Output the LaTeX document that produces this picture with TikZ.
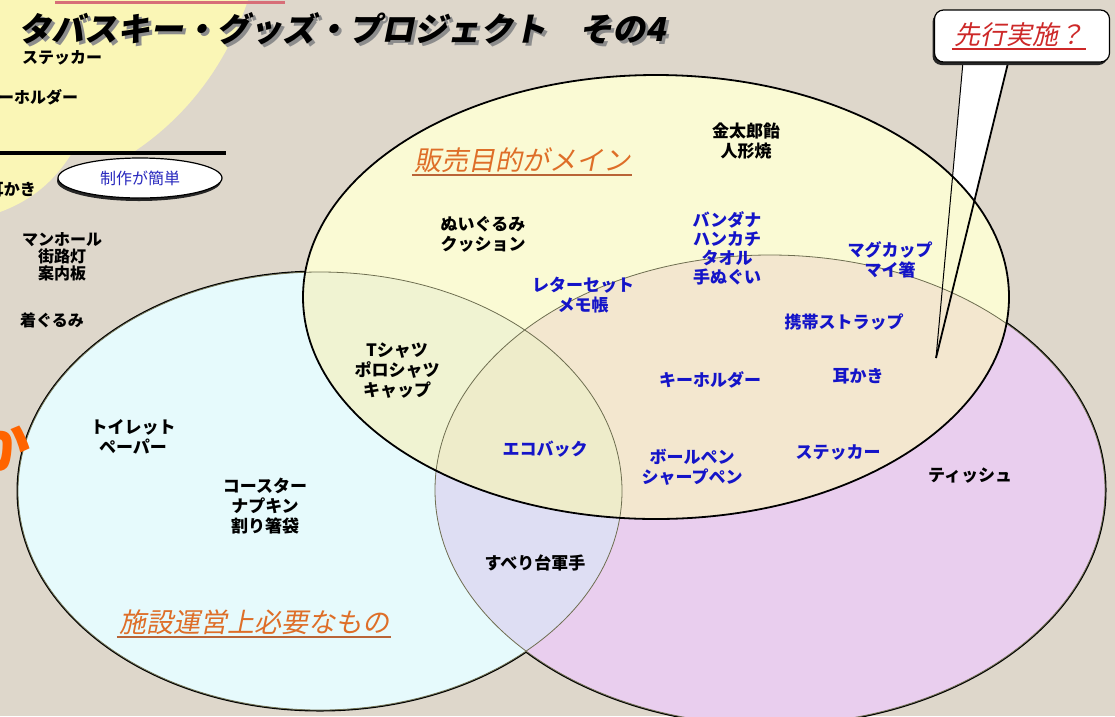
\documentclass[tikz,border=0pt]{standalone}
\usepackage{fontspec}
\usetikzlibrary{calc, shapes.geometric, shadows}
\newfontfamily\jp{Noto Sans CJK JP}
\newfontfamily\jpsl[FakeSlant=0.2]{Noto Sans CJK JP}
\definecolor{paper}{RGB}{222,215,203}
\definecolor{oldyellow}{RGB}{250,246,182}
\definecolor{pinkred}{RGB}{215,110,120}
\definecolor{saleyellow}{RGB}{250,250,212}
\definecolor{siteblue}{RGB}{230,250,252}
\definecolor{trialpink}{RGB}{233,206,238}
\definecolor{siteXtrial}{RGB}{222,222,243}
\definecolor{saleXsite}{RGB}{240,243,210}
\definecolor{saleXtrial}{RGB}{243,231,207}
\definecolor{allthree}{RGB}{238,236,202}
\definecolor{seam}{RGB}{110,110,80}
\definecolor{goodsblue}{RGB}{20,20,200}
\definecolor{themeorange}{RGB}{222,110,40}
\definecolor{themerule}{RGB}{185,100,55}
\definecolor{callred}{RGB}{205,40,40}
\definecolor{easyblue}{RGB}{40,40,190}
\definecolor{kaorange}{RGB}{255,100,0}
\newcommand\saleE{(656,297) ellipse [x radius=353pt, y radius=222pt]}
\newcommand\siteE{(320,491) ellipse [x radius=302pt, y radius=219pt]}
\newcommand\trialE{(770,490) ellipse [x radius=335pt, y radius=235pt]}
\begin{document}
\begin{tikzpicture}[x=1pt,y=-1pt,
    item/.style={font=\jp\bfseries\fontsize{17}{20}\selectfont, align=center, inner sep=0pt},
    goods/.style={item, text=goodsblue},
    old/.style={font=\jp\bfseries\fontsize{16}{17}\selectfont, align=center, inner sep=0pt},
    theme/.style={font=\jpsl\fontsize{27}{30}\selectfont, text=themeorange, inner sep=2pt},
    themeline/.style={draw=themerule, line width=2pt},
    heading/.style={font=\jpsl\bfseries\fontsize{33}{36}\selectfont, inner sep=0pt, anchor=west},
    rim/.style={draw=black, line width=3pt},
    seamline/.style={draw=seam, line width=0.8pt},
    callbox/.style={rectangle, rounded corners=9pt, draw, line width=1.2pt, fill=white,
      minimum width=175pt, minimum height=52pt,
      drop shadow={shadow xshift=-2pt, shadow yshift=-3pt, fill=black!85, opacity=1}},
    easybox/.style={ellipse, draw, line width=1.2pt, fill=white, minimum width=164pt, minimum height=40pt,
      font=\jp\fontsize{16}{18}\selectfont, text=easyblue,
      drop shadow={shadow xshift=-1pt, shadow yshift=-3pt, fill=black!85, opacity=1}},
  ]
\useasboundingbox (0,0) rectangle (1115,716);
\fill[paper] (0,0) rectangle (1115,716);

\fill[oldyellow] (0,0) -- (248,0) .. controls (228,60) and (190,115) .. (132,153) -- (0,153) -- cycle;
\fill[oldyellow] (0,153) -- (72,153) .. controls (58,175) and (38,198) .. (0,212) -- cycle;
\draw[pinkred, line width=3pt] (55,2) -- (285,2);
\draw[line width=4pt] (0,153) -- (226,153);

\coordinate (ptl) at (963,62);
\coordinate (ptr) at (1008,63);
\coordinate (tip) at (936,358);
\fill[white] (ptl) -- (tip) -- (ptr) -- cycle;

\draw[rim] \siteE;
\draw[rim] \trialE;
\fill[siteblue] \siteE;
\fill[trialpink] \trialE;
\begin{scope}
  \clip \siteE;
  \fill[siteXtrial] \trialE;
\end{scope}
\fill[saleyellow] \saleE;
\begin{scope}
  \clip \saleE;
  \fill[saleXsite] \siteE;
  \fill[saleXtrial] \trialE;
  \clip \siteE;
  \fill[allthree] \trialE;
\end{scope}
\draw[seamline] \siteE;
\draw[seamline] \trialE;
\draw[line width=1.8pt] \saleE;

\draw[line width=1pt] (ptl) -- (tip);
\draw[line width=1.8pt] (ptr) -- (tip);
\node[callbox] (call) at (1022,36) {};
\node[font=\jpsl\fontsize{26}{28}\selectfont, text=callred, inner sep=2pt] (call-t) at (1019,35) {先行実施？};
\draw[callred, line width=1.5pt] (call-t.south west) -- (call-t.south east);

\node[heading, text=black!45] (title-sh) at (21,32) {タバスキー・グッズ・プロジェクト　その4};
\node[heading] (title) at (18,29) {タバスキー・グッズ・プロジェクト　その4};

\node[old] (sticker-o) at (62,58) {ステッカー};
\node[old, anchor=west] (holder-o) at (-2,97) {ーホルダー};
\node[old, anchor=east] (earpick-o) at (36,190) {耳かき};
\node[old] (manhole) at (62,257) {マンホール\\街路灯\\案内板};
\node[old] (kigurumi) at (52,320) {着ぐるみ};
\node[easybox] (easy) at (140,178) {制作が簡単};
\node[font=\jp\bfseries\fontsize{60}{62}\selectfont, text=kaorange, anchor=east, inner sep=0pt] (ka) at (31,446) {か};

\node[theme] (sales) at (522,160) {販売目的がメイン};
\draw[themeline] (sales.south west) -- (sales.south east);
\node[theme] (facility) at (254,622) {施設運営上必要なもの};
\draw[themeline] (facility.south west) -- (facility.south east);

\node[item] (candy) at (746,141) {金太郎飴\\人形焼};
\node[item] (plush) at (483,234) {ぬいぐるみ\\クッション};
\node[goods, font=\jp\bfseries\fontsize{17}{19}\selectfont] (cloth) at (727,248) {バンダナ\\ハンカチ\\タオル\\手ぬぐい};
\node[goods] (letter) at (583,295) {レターセット\\メモ帳};
\node[goods] (mug) at (890,260) {マグカップ\\マイ箸};
\node[goods] (strap) at (844,322) {携帯ストラップ};
\node[item] (shirt) at (397,371) {Tシャツ\\ポロシャツ\\キャップ};
\node[goods] (keyholder) at (710,380) {キーホルダー};
\node[goods] (earpick) at (858,376) {耳かき};
\node[goods] (ecobag) at (545,449) {エコバック};
\node[goods] (pen) at (692,467) {ボールペン\\シャープペン};
\node[goods] (sticker) at (838,452) {ステッカー};
\node[item] (tissue) at (970,476) {ティッシュ};
\node[item] (toilet) at (133,437) {トイレット\\ペーパー};
\node[item] (coaster) at (265,506) {コースター\\ナプキン\\割り箸袋};
\node[item] (gloves) at (535,563) {すべり台軍手};
\end{tikzpicture}
\end{document}
